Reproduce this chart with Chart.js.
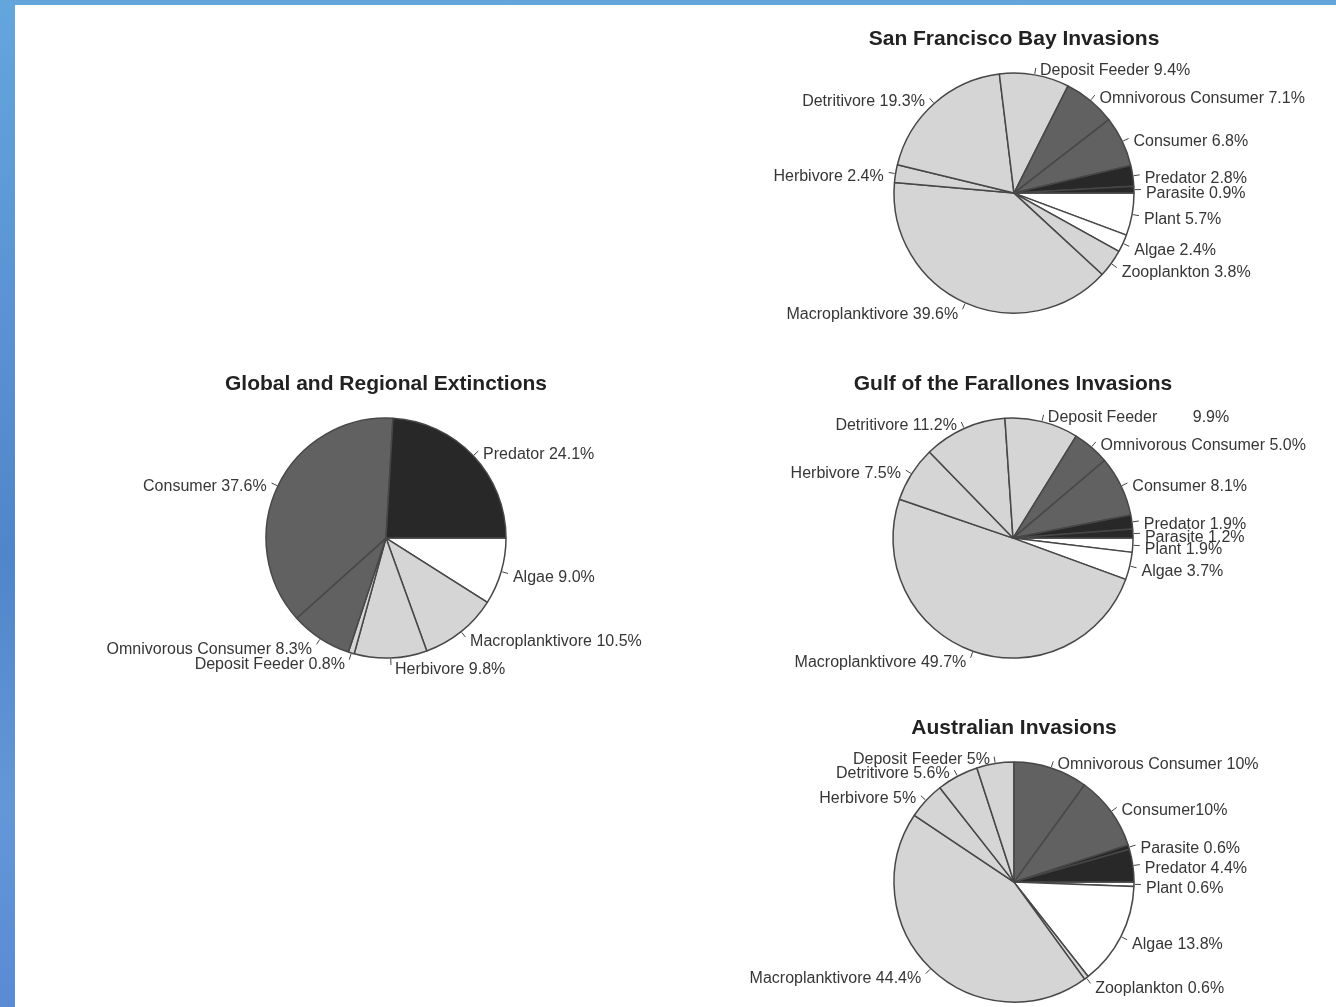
<!DOCTYPE html>
<html>
<head>
<meta charset="utf-8">
<title>Feeding guilds of marine invasions and extinctions</title>
<script src="https://cdn.jsdelivr.net/npm/chart.js@4.4.1/dist/chart.umd.min.js"></script>
<style>
  html, body { margin: 0; padding: 0; overflow: hidden; }
  body {
    position: relative;
    width: 1336px;
    height: 1007px;
    background: linear-gradient(180deg, #63a6dc 0%, #5b93d4 30%, #4f86c9 55%, #6497d8 80%, #5a8ad4 100%);
  }
  #sheet { position: absolute; left: 15px; top: 5px; right: 0; bottom: 0; background: #fff; }
  canvas { position: absolute; }
</style>
</head>
<body>
<div id="sheet"></div>
<canvas id="sfChart" width="660" height="327" style="left:684px; top:25px;"></canvas>
<canvas id="globalChart" width="660" height="327" style="left:56px; top:370px;"></canvas>
<canvas id="gulfChart" width="660" height="327" style="left:683px; top:370px;"></canvas>
<canvas id="ausChart" width="660" height="327" style="left:684px; top:714px;"></canvas>
<script>
// Slices run clockwise from 3 o'clock.
const sfLabels = ['Plant', 'Algae', 'Zooplankton', 'Macroplanktivore', 'Herbivore', 'Detritivore',
    'Deposit Feeder', 'Omnivorous Consumer', 'Consumer', 'Predator', 'Parasite'];
const sfValues = [5.7, 2.4, 3.8, 39.6, 2.4, 19.3, 9.4, 7.1, 6.8, 2.8, 0.9];

const globalLabels = ['Algae', 'Macroplanktivore', 'Herbivore', 'Deposit Feeder',
    'Omnivorous Consumer', 'Consumer', 'Predator'];
const globalValues = [9.0, 10.5, 9.8, 0.8, 8.3, 37.6, 24.1];

const gulfLabels = ['Plant', 'Algae', 'Macroplanktivore', 'Herbivore', 'Detritivore',
    'Deposit Feeder', 'Omnivorous Consumer', 'Consumer', 'Predator', 'Parasite'];
const gulfValues = [1.9, 3.7, 49.7, 7.5, 11.2, 9.9, 5.0, 8.1, 1.9, 1.2];

const ausLabels = ['Plant', 'Algae', 'Zooplankton', 'Macroplanktivore', 'Herbivore', 'Detritivore',
    'Deposit Feeder', 'Omnivorous Consumer', 'Consumer', 'Parasite', 'Predator'];
const ausValues = [0.6, 13.8, 0.6, 44.4, 5, 5.6, 5, 10, 10, 0.6, 4.4];

const FONT = "'Liberation Sans', Arial, Helvetica, sans-serif";

const shade = {
    'Plant': '#ffffff',
    'Algae': '#ffffff',
    'Zooplankton': '#d5d5d5',
    'Macroplanktivore': '#d5d5d5',
    'Herbivore': '#d5d5d5',
    'Detritivore': '#d5d5d5',
    'Deposit Feeder': '#d5d5d5',
    'Omnivorous Consumer': '#616161',
    'Consumer': '#616161',
    'Predator': '#282828',
    'Parasite': '#282828'
};

// labels outside the pie with a short tick pointing at each slice
const sliceLabels = {
    id: 'sliceLabels',
    afterDraw(chart, args, opts) {
        const ctx = chart.ctx;
        const ds = chart.data.datasets[0];
        const meta = chart.getDatasetMeta(0);
        ctx.save();
        ctx.font = '16px ' + FONT;
        ctx.fillStyle = '#363636';
        ctx.strokeStyle = '#444';
        ctx.lineWidth = 1;
        ctx.textBaseline = 'middle';
        meta.data.forEach((arc, i) => {
            const p = arc.getProps(['x', 'y', 'startAngle', 'endAngle', 'outerRadius'], true);
            const mid = (p.startAngle + p.endAngle) / 2;
            const cos = Math.cos(mid), sin = Math.sin(mid);
            const r = p.outerRadius;
            ctx.beginPath();
            ctx.moveTo(p.x + cos * (r + 1), p.y + sin * (r + 1));
            ctx.lineTo(p.x + cos * (r + 7), p.y + sin * (r + 7));
            ctx.stroke();

            const name = chart.data.labels[i];
            const v = ds.data[i];
            const num = opts.decimals == null ? String(v) : v.toFixed(opts.decimals);
            const sep = (opts.sep && opts.sep[name] != null) ? opts.sep[name] : ' ';
            const right = cos >= 0;
            ctx.textAlign = right ? 'left' : 'right';
            ctx.fillText(name + sep + num + '%',
                p.x + cos * (r + 8) + (right ? 4 : -4),
                p.y + sin * (r + 8) + 4);
        });
        ctx.restore();
    }
};

function makePie(id, title, labels, values, labelOpts) {
    return new Chart(document.getElementById(id), {
        type: 'pie',
        data: {
            labels: labels,
            datasets: [{
                data: values,
                backgroundColor: labels.map(l => shade[l]),
                borderColor: '#474747',
                borderWidth: 1.5
            }]
        },
        options: {
            responsive: false,
            animation: false,
            events: [],
            rotation: 90,
            radius: 120,
            layout: { padding: { top: 0, bottom: 20, left: 0, right: 0 } },
            plugins: {
                legend: { display: false },
                tooltip: { enabled: false },
                title: {
                    display: true,
                    text: title,
                    color: '#222',
                    font: { family: FONT, size: 21, weight: 'bold', lineHeight: 1.2 },
                    padding: { top: 2, bottom: 2 }
                },
                sliceLabels: labelOpts
            }
        },
        plugins: [sliceLabels]
    });
}

makePie('sfChart', 'San Francisco Bay Invasions', sfLabels, sfValues, { decimals: 1 });
makePie('globalChart', 'Global and Regional Extinctions', globalLabels, globalValues, { decimals: 1 });
makePie('gulfChart', 'Gulf of the Farallones Invasions', gulfLabels, gulfValues,
    { decimals: 1, sep: { 'Deposit Feeder': '        ' } });
makePie('ausChart', 'Australian Invasions', ausLabels, ausValues,
    { decimals: null, sep: { 'Consumer': '' } });
</script>
</body>
</html>
